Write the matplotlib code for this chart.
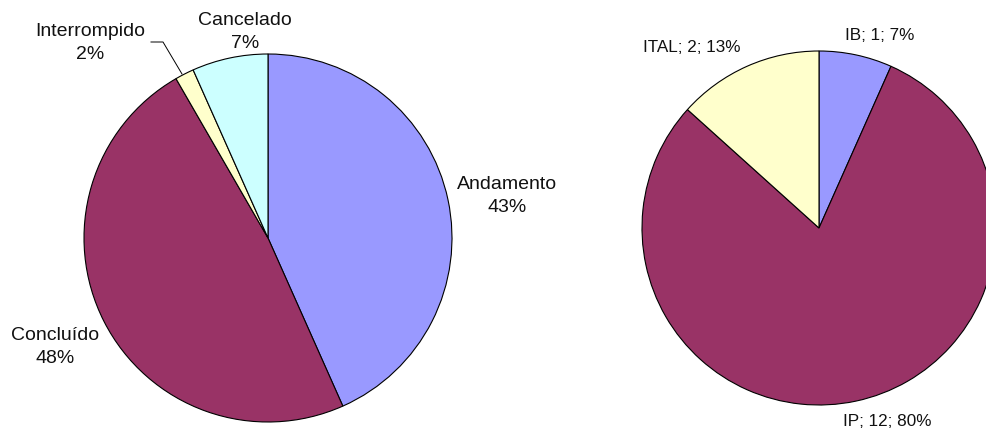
import matplotlib
matplotlib.use("Agg")
import matplotlib.pyplot as plt

plt.rcParams['font.family'] = ['Liberation Sans', 'DejaVu Sans']

# left pie: project status
status_labels = ['Andamento', 'Concluído', 'Interrompido', 'Cancelado']
status_counts = [26, 29, 1, 4]
status_colors = ['#9999FF', '#993366', '#FFFFCC', '#CCFFFF']

# right pie: by institution
inst_labels = ['IB', 'IP', 'ITAL']
inst_counts = [1, 12, 2]
inst_colors = ['#9999FF', '#993366', '#FFFFCC']

W, H = 987, 432
fig = plt.figure(figsize=(W / 100, H / 100), dpi=100)
ax = fig.add_axes([0, 0, 1, 1])

wedge = dict(edgecolor='black', linewidth=0.8)
ax.pie(status_counts, colors=status_colors, startangle=90, counterclock=False,
       center=(268, H - 238), radius=184, wedgeprops=wedge, frame=True)
ax.pie(inst_counts, colors=inst_colors, startangle=90, counterclock=False,
       center=(819, H - 228), radius=177, wedgeprops=wedge, frame=True)
ax.set_xlim(0, W)
ax.set_ylim(0, H)
ax.set_aspect('equal')
ax.axis('off')

# left labels: name + percent
tot = sum(status_counts)
left_pos = [(507, 196), (55, 347), (90, 43), (245, 32)]
for name, c, (x, y) in zip(status_labels, status_counts, left_pos):
    ax.text(x, H - y, f"{name}\n{round(100 * c / tot)}%", ha='center', va='center',
            fontsize=14, linespacing=1.45, color='#111111')

# leader line for Interrompido
ax.plot([151, 163, 182], [H - 42, H - 42, H - 74], color='black', lw=0.7)

# right labels: name; count; percent
tot2 = sum(inst_counts)
right_pos = [(880, 36), (887, 422), (692, 47)]
for name, c, (x, y) in zip(inst_labels, inst_counts, right_pos):
    ax.text(x, H - y, f"{name}; {c}; {round(100 * c / tot2)}%", ha='center', va='center',
            fontsize=12.3, color='#111111')

fig.savefig('out.png', dpi=100)
